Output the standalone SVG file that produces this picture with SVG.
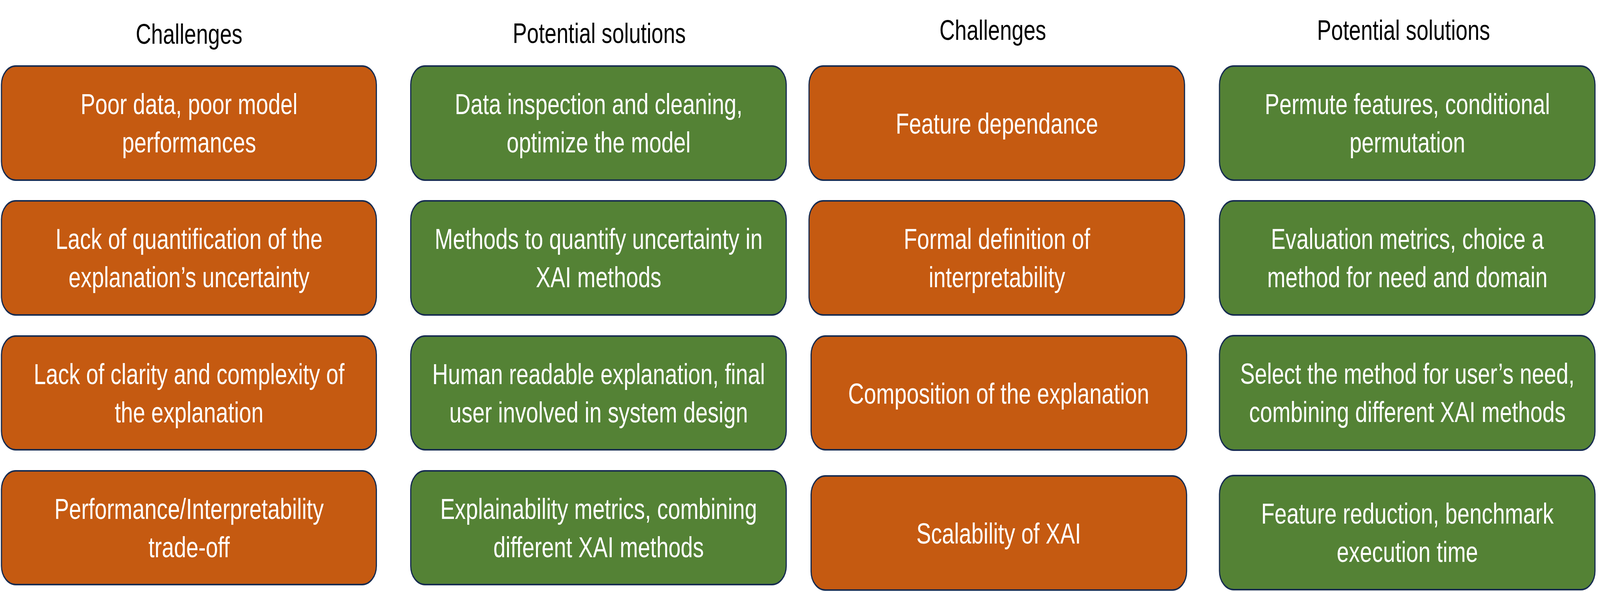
<svg xmlns="http://www.w3.org/2000/svg" width="5399" height="1515" viewBox="0 0 5399 1515" preserveAspectRatio="none" style="width:100vw;height:100vh;display:block">
<style>
.bg{fill:#ffffff}
.box{stroke:#172C51;stroke-width:4}
.ch{fill:#C55A11}
.so{fill:#548235}
.t{font-family:"Liberation Sans",Arial,sans-serif;font-size:74px;fill:#ffffff;text-anchor:middle}
.h{font-family:"Liberation Sans",Arial,sans-serif;font-size:72px;fill:#000000;text-anchor:middle}
</style>
<rect class="bg" x="0" y="0" width="5399" height="1515"/>
<g id="headers">
<text class="h" x="638" y="112">Challenges</text>
<text class="h" x="2022" y="110">Potential solutions</text>
<text class="h" x="3350" y="102">Challenges</text>
<text class="h" x="4736" y="102">Potential solutions</text>
</g>
<g id="connectors"></g>
<g id="c1r1"><rect class="box ch" x="5" y="169" width="1265" height="292" rx="48"/><text class="t" x="638" y="292">Poor data, poor model</text><text class="t" x="638" y="390">performances</text></g>
<g id="c1r2"><rect class="box ch" x="5" y="514" width="1265" height="292" rx="48"/><text class="t" x="638" y="637">Lack of quantification of the</text><text class="t" x="638" y="735">explanation’s uncertainty</text></g>
<g id="c1r3"><rect class="box ch" x="5" y="860" width="1265" height="291" rx="48"/><text class="t" x="638" y="983">Lack of clarity and complexity of</text><text class="t" x="638" y="1081">the explanation</text></g>
<g id="c1r4"><rect class="box ch" x="5" y="1205" width="1265" height="291" rx="48"/><text class="t" x="638" y="1328">Performance/Interpretability</text><text class="t" x="638" y="1426">trade-off</text></g>
<g id="c2r1"><rect class="box so" x="1386" y="169" width="1267" height="292" rx="48"/><text class="t" x="2020" y="292">Data inspection and cleaning,</text><text class="t" x="2020" y="390">optimize the model</text></g>
<g id="c2r2"><rect class="box so" x="1386" y="514" width="1267" height="292" rx="48"/><text class="t" x="2020" y="637">Methods to quantify uncertainty in</text><text class="t" x="2020" y="735">XAI methods</text></g>
<g id="c2r3"><rect class="box so" x="1386" y="860" width="1267" height="291" rx="48"/><text class="t" x="2020" y="983">Human readable explanation, final</text><text class="t" x="2020" y="1081">user involved in system design</text></g>
<g id="c2r4"><rect class="box so" x="1386" y="1205" width="1267" height="291" rx="48"/><text class="t" x="2020" y="1328">Explainability metrics, combining</text><text class="t" x="2020" y="1426">different XAI methods</text></g>
<g id="c3r1"><rect class="box ch" x="2730" y="169" width="1267" height="292" rx="48"/><text class="t" x="3364" y="342">Feature dependance</text></g>
<g id="c3r2"><rect class="box ch" x="2730" y="514" width="1267" height="292" rx="48"/><text class="t" x="3364" y="637">Formal definition of</text><text class="t" x="3364" y="735">interpretability</text></g>
<g id="c3r3"><rect class="box ch" x="2737" y="860" width="1267" height="291" rx="48"/><text class="t" x="3370" y="1033">Composition of the explanation</text></g>
<g id="c3r4"><rect class="box ch" x="2737" y="1218" width="1267" height="292" rx="48"/><text class="t" x="3370" y="1391">Scalability of XAI</text></g>
<g id="c4r1"><rect class="box so" x="4115" y="169" width="1267" height="292" rx="48"/><text class="t" x="4749" y="292">Permute features, conditional</text><text class="t" x="4749" y="390">permutation</text></g>
<g id="c4r2"><rect class="box so" x="4115" y="514" width="1267" height="292" rx="48"/><text class="t" x="4749" y="637">Evaluation metrics, choice a</text><text class="t" x="4749" y="735">method for need and domain</text></g>
<g id="c4r3"><rect class="box so" x="4115" y="859" width="1267" height="293" rx="48"/><text class="t" x="4749" y="982">Select the method for user’s need,</text><text class="t" x="4749" y="1080">combining different XAI methods</text></g>
<g id="c4r4"><rect class="box so" x="4115" y="1217" width="1267" height="292" rx="48"/><text class="t" x="4749" y="1340">Feature reduction, benchmark</text><text class="t" x="4749" y="1438">execution time</text></g>
</svg>
